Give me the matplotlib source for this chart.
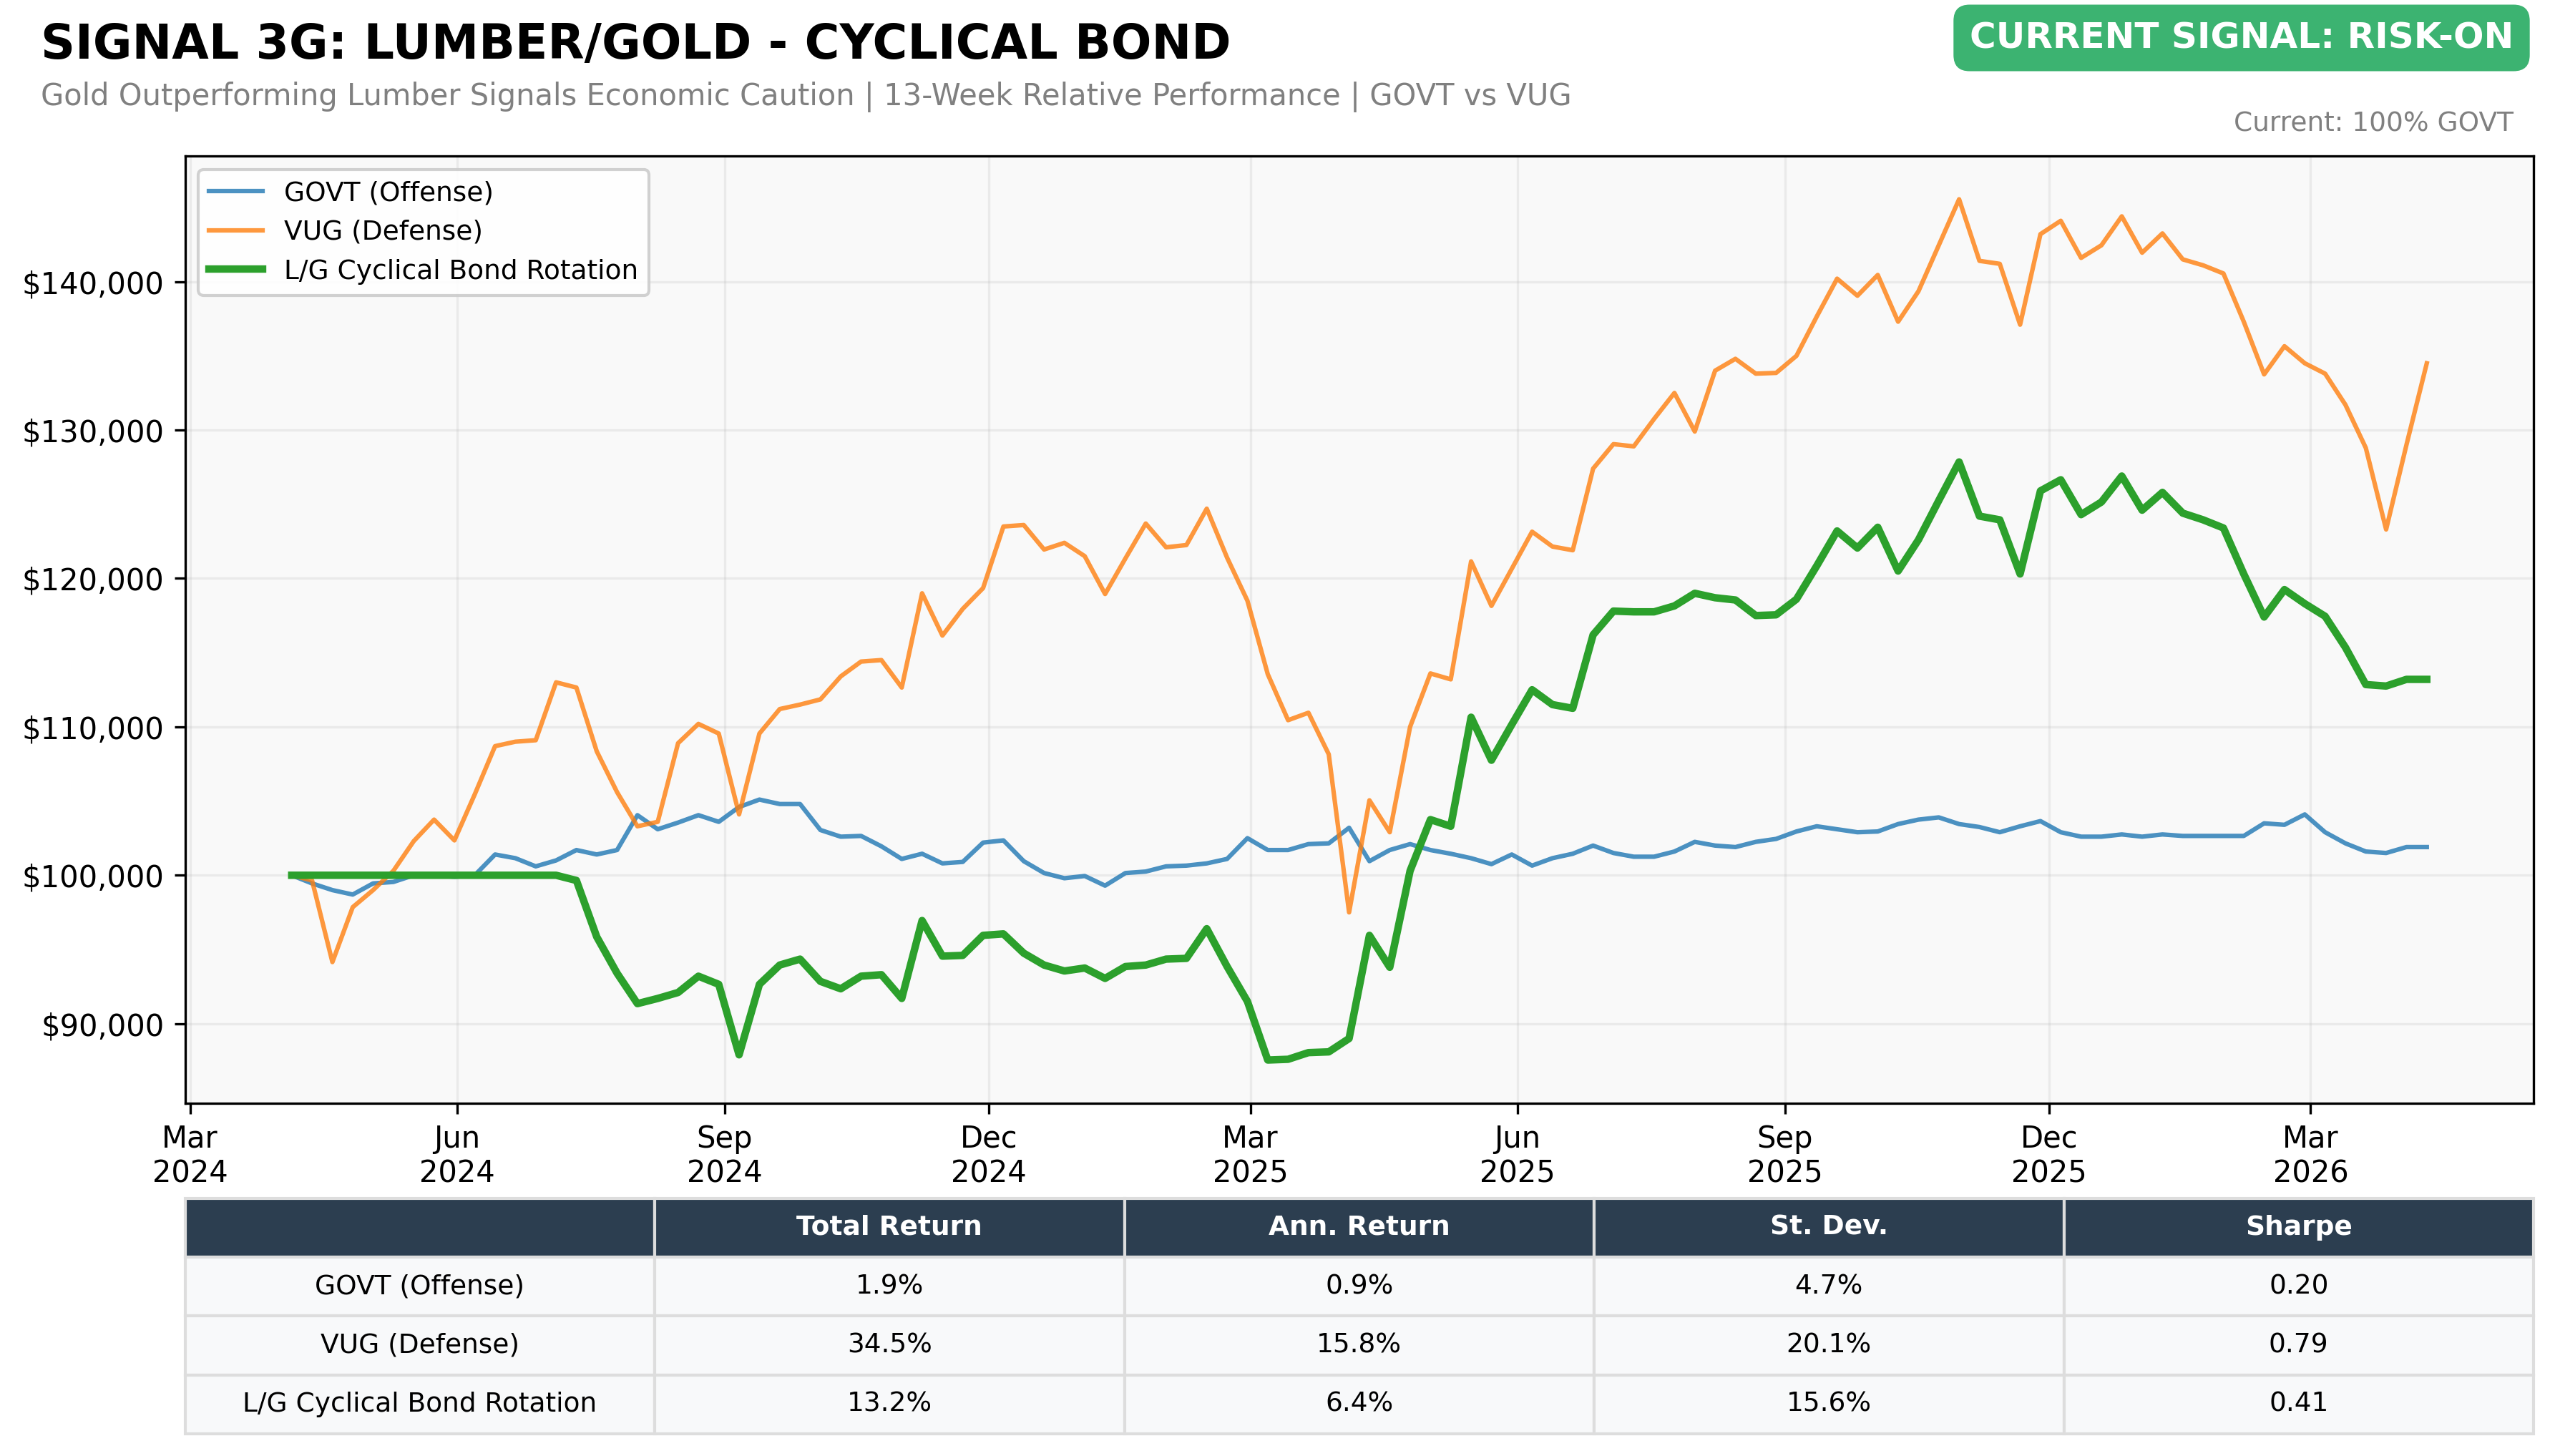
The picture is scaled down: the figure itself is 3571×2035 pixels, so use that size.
import numpy as np
import pandas as pd
import matplotlib
matplotlib.use("Agg")
from matplotlib import pyplot as plt
import matplotlib.dates as mdates
from matplotlib.ticker import FuncFormatter

# weekly closes (Fridays), growth of $100k
start_date = "2024-04-05"

govt = [100000, 99450, 99000, 98700, 99450, 99550, 100000, 100000, 99900, 100000,
        101400, 101150, 100600, 101000, 101700, 101400, 101700, 104050, 103100, 103550,
        104050, 103600, 104600, 105100, 104800, 104800, 103050, 102600, 102650, 101950,
        101100, 101450, 100800, 100900, 102200, 102350, 100950, 100150, 99800, 99950,
        99300, 100150, 100250, 100600, 100650, 100800, 101100, 102500, 101700, 101700,
        102100, 102150, 103200, 100950, 101700, 102100, 101700, 101450, 101150, 100750,
        101400, 100650, 101150, 101450, 102000, 101500, 101250, 101250, 101600, 102250,
        102000, 101900, 102250, 102450, 102950, 103300, 103100, 102900, 102950, 103450,
        103750, 103900, 103450, 103250, 102900, 103300, 103650, 102900, 102600, 102600,
        102750, 102600, 102750, 102650, 102650, 102650, 102650, 103500, 103400, 104100,
        102900, 102150, 101600, 101500, 101900, 101900]

vug = [100000, 99650, 94150, 97850, 99000, 100300, 102300, 103750, 102350, 105450,
       108700, 109000, 109100, 113000, 112650, 108350, 105600, 103300, 103600, 108900,
       110200, 109550, 104100, 109550, 111200, 111500, 111850, 113400, 114400, 114500,
       112650, 119000, 116150, 117950, 119350, 123500, 123600, 121950, 122400, 121500,
       118950, 121350, 123700, 122100, 122250, 124700, 121400, 118500, 113550, 110450,
       110950, 108150, 97500, 105050, 102900, 110000, 113600, 113200, 121150, 118150,
       120650, 123150, 122150, 121900, 127400, 129050, 128900, 130750, 132500, 129900,
       134000, 134800, 133800, 133850, 135000, 137650, 140200, 139050, 140450, 137300,
       139350, 142450, 145550, 141400, 141200, 137100, 143200, 144100, 141600, 142450,
       144400, 141950, 143250, 141500, 141100, 140550, 137300, 133750, 135650, 134500,
       133800, 131700, 128800, 123300, 129000, 134500]

rotation = [100000, 100000, 100000, 100000, 100000, 100000, 100000, 100000, 100000, 100000,
            100000, 100000, 100000, 100000, 99650, 95850, 93400, 91350, 91700, 92100,
            93200, 92650, 87900, 92650, 93950, 94350, 92850, 92350, 93200, 93300,
            91700, 96950, 94550, 94600, 95950, 96050, 94750, 93950, 93550, 93750,
            93050, 93850, 93950, 94350, 94400, 96400, 93850, 91500, 87550, 87600,
            88050, 88100, 89000, 95950, 93800, 100300, 103750, 103300, 110650, 107750,
            110150, 112500, 111500, 111250, 116200, 117800, 117750, 117750, 118150, 119000,
            118700, 118550, 117500, 117550, 118600, 120850, 123200, 122050, 123450, 120500,
            122600, 125250, 127850, 124200, 123950, 120300, 125900, 126650, 124300, 125150,
            126900, 124600, 125800, 124400, 123950, 123400, 120300, 117400, 119250, 118300,
            117450, 115350, 112850, 112750, 113200, 113200]

series_names = ["GOVT (Offense)", "VUG (Defense)", "L/G Cyclical Bond Rotation"]

table_cols = ["", "Total Return", "Ann. Return", "St. Dev.", "Sharpe"]
total_ret = ["1.9%", "34.5%", "13.2%"]
ann_ret = ["0.9%", "15.8%", "6.4%"]
st_dev = ["4.7%", "20.1%", "15.6%"]
sharpe = ["0.20", "0.79", "0.41"]

dates = pd.date_range(start_date, periods=len(govt), freq="W-FRI")

W, H, DPI = 3571, 2035, 300
fig = plt.figure(figsize=(W / DPI, H / DPI), dpi=DPI)

ax = fig.add_axes([0.0724, 0.2424, 0.9192, 0.6503])
ax.set_facecolor("#f9f9f9")
ax.plot(dates, govt, color="#1f77b4", lw=1.5, alpha=0.8, label=series_names[0])
ax.plot(dates, vug, color="#ff7f0e", lw=1.5, alpha=0.8, label=series_names[1])
ax.plot(dates, rotation, color="#2ca02c", lw=2.5, label=series_names[2])

ax.grid(True, alpha=0.2)
ax.xaxis.set_major_locator(mdates.MonthLocator(bymonth=[3, 6, 9, 12]))
ax.xaxis.set_major_formatter(mdates.DateFormatter("%b\n%Y"))
ax.yaxis.set_major_formatter(FuncFormatter(lambda v, p: f"${v:,.0f}"))
ax.tick_params(labelsize=10)
ax.legend(loc="upper left", fontsize=9, framealpha=0.9)

# header texts
fig.text(57 / W, 1 - 82 / H, "SIGNAL 3G: LUMBER/GOLD - CYCLICAL BOND",
         fontsize=16, fontweight="bold", va="baseline", ha="left")
fig.text(57 / W, 1 - 147 / H,
         "Gold Outperforming Lumber Signals Economic Caution | 13-Week Relative Performance | GOVT vs VUG",
         fontsize=10, color="gray", va="baseline", ha="left")
fig.text(3133 / W, 1 - 53 / H, "CURRENT SIGNAL: RISK-ON", fontsize=12, fontweight="bold",
         color="white", ha="center", va="center",
         bbox=dict(boxstyle="round,pad=0.45", facecolor="#3cb371", edgecolor="none"))
fig.text(3513 / W, 1 - 183 / H, "Current: 100% GOVT", fontsize=9, color="gray",
         ha="right", va="baseline")

# stats table
tab_ax = fig.add_axes([0.0724, 0.0152, 0.9192, 0.1619])
tab_ax.axis("off")
rows = [[series_names[i], total_ret[i], ann_ret[i], st_dev[i], sharpe[i]] for i in range(3)]
tbl = tab_ax.table(cellText=rows, colLabels=table_cols, cellLoc="center", bbox=[0, 0, 1, 1])
tbl.auto_set_font_size(False)
tbl.set_fontsize(9)
for (r, c), cell in tbl.get_celld().items():
    cell.set_edgecolor("#dddddd")
    cell.set_linewidth(1)
    if r == 0:
        cell.set_facecolor("#2c3e50")
        cell.get_text().set_color("white")
        cell.get_text().set_fontweight("bold")
    else:
        cell.set_facecolor("#f8f9fa")

fig.savefig("out.png", dpi=DPI)
